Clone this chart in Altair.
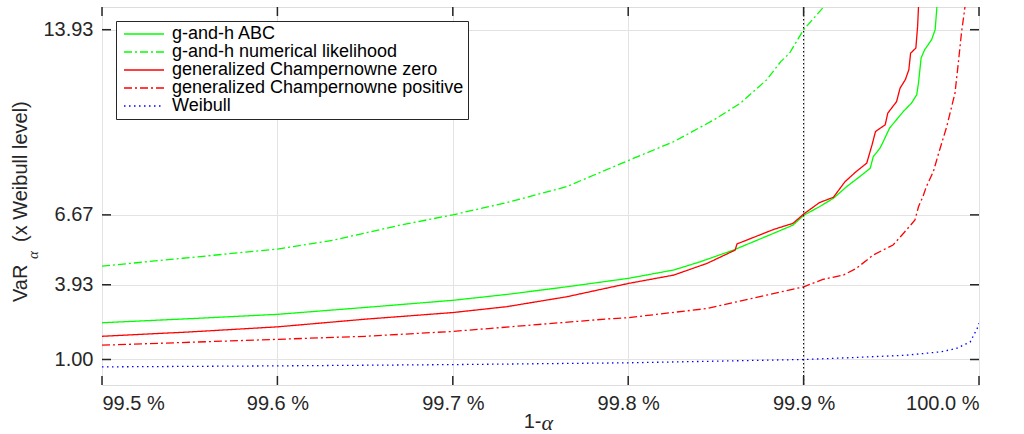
import altair as alt
import pandas as pd

# Series: confidence level 1-alpha (in %) and VaR relative to the Weibull level
series_names = [
    "g-and-h ABC",
    "g-and-h numerical likelihood",
    "generalized Champernowne zero",
    "generalized Champernowne positive",
    "Weibull",
]
series_colors = ["#00ff00", "#00ff00", "#ff0000", "#ff0000", "#0000ff"]
series_dashes = [[1, 0], [8, 3, 2, 3], [1, 0], [8, 3, 2, 3], [1.5, 3.5]]

gh_abc_x = [99.50, 99.55, 99.60, 99.65, 99.70, 99.7307, 99.765, 99.80, 99.826, 99.841,
            99.860, 99.883, 99.894, 99.90, 99.909, 99.917, 99.9246, 99.932, 99.938, 99.9397,
            99.9435, 99.9454, 99.949, 99.9568, 99.9615, 99.9645, 99.9655, 99.967, 99.969,
            99.973, 99.975, 99.976, 99.9765]
gh_abc_y = [2.44, 2.60, 2.77, 3.04, 3.32, 3.55, 3.85, 4.18, 4.51, 4.83,
            5.29, 5.95, 6.27, 6.65, 6.99, 7.32, 7.78, 8.17, 8.50, 8.95,
            9.28, 9.54, 10.07, 10.72, 11.05, 11.38, 11.84, 12.82, 13.14,
            13.54, 13.93, 14.82, 15.50]

gh_num_x = [99.50, 99.546, 99.60, 99.632, 99.670, 99.70, 99.7307, 99.765, 99.80, 99.826,
            99.849, 99.864, 99.879, 99.887, 99.892, 99.90, 99.9114, 99.913]
gh_num_y = [4.66, 4.97, 5.33, 5.68, 6.27, 6.67, 7.15, 7.78, 8.80, 9.54,
            10.40, 11.05, 11.97, 12.68, 13.01, 13.93, 14.82, 15.30]

gc_zero_x = [99.50, 99.55, 99.60, 99.65, 99.70, 99.7307, 99.765, 99.80, 99.826, 99.845,
             99.861, 99.862, 99.883, 99.894, 99.90, 99.909, 99.917, 99.9236, 99.930, 99.936,
             99.939, 99.941, 99.9465, 99.948, 99.953, 99.955, 99.958, 99.960, 99.961, 99.964,
             99.965, 99.9655, 99.966]
gc_zero_y = [1.91, 2.08, 2.28, 2.58, 2.84, 3.07, 3.46, 3.98, 4.31, 4.77,
             5.29, 5.53, 6.10, 6.34, 6.70, 7.15, 7.36, 7.97, 8.37, 8.70,
             9.41, 9.94, 10.20, 10.66, 11.11, 11.64, 11.97, 12.36, 13.01, 13.21,
             14.06, 14.82, 15.50]

gc_pos_x = [99.50, 99.60, 99.65, 99.70, 99.788, 99.80, 99.845, 99.90, 99.911, 99.9227,
            99.930, 99.9398, 99.951, 99.957, 99.9635, 99.9655, 99.968, 99.970, 99.974,
            99.977, 99.9816, 99.9863, 99.988, 99.990, 99.992, 99.9925]
gc_pos_y = [1.56, 1.79, 1.91, 2.10, 2.59, 2.64, 3.00, 3.85, 4.14, 4.31,
            4.57, 5.10, 5.49, 5.95, 6.47, 6.99, 7.38, 7.78, 8.37,
            9.09, 10.13, 11.44, 12.49, 13.80, 14.82, 15.30]

weibull_x = [99.50, 99.60, 99.70, 99.80, 99.90, 99.930, 99.9588, 99.978, 99.987, 99.995,
             99.999, 100.0]
weibull_y = [0.71, 0.75, 0.80, 0.87, 1.00, 1.08, 1.17, 1.30, 1.43, 1.69,
             2.22, 2.42]

x_ticks = [99.5, 99.6, 99.7, 99.8, 99.9, 100.0]
y_ticks = [1.00, 3.93, 6.67, 13.93]
marker_level = [99.9]

x_domain = [99.5, 100.0]
y_domain = [0.0, 14.82]

W, H = 877, 378
INK = "#262626"
FONT = "Liberation Sans"

rows = []
for name, xs, ys in zip(series_names,
                        [gh_abc_x, gh_num_x, gc_zero_x, gc_pos_x, weibull_x],
                        [gh_abc_y, gh_num_y, gc_zero_y, gc_pos_y, weibull_y]):
    for xv, yv in zip(xs, ys):
        rows.append({"level": xv, "var": yv, "series": name})
curves = pd.DataFrame(rows)

x_scale = alt.Scale(domain=x_domain, nice=False, zero=False)
y_scale = alt.Scale(domain=y_domain, nice=False, zero=False)

legend = alt.Legend(
    title=None, orient="top-left", offset=14, padding=4,
    strokeColor=INK, fillColor="white", cornerRadius=0,
    labelFont=FONT, labelFontSize=18, labelColor="#000000", labelLimit=0,
    symbolType="M-1,0H7", symbolSize=100, symbolStrokeWidth=1.3,
    labelOffset=34, rowPadding=0,
)

lines = alt.Chart(curves).mark_line(clip=True, strokeWidth=1.3).encode(
    x=alt.X("level:Q", scale=x_scale,
            axis=alt.Axis(values=x_ticks, labelExpr="format(datum.value, '.1f') + ' %'",
                          grid=True, gridColor="#e3e3e3", domain=False, ticks=False,
                          labelFont=FONT, labelFontSize=20, labelColor=INK, labelPadding=8,
                          title=None)),
    y=alt.Y("var:Q", scale=y_scale,
            axis=alt.Axis(values=y_ticks, format=".2f", grid=True, gridColor="#e3e3e3",
                          domain=False, ticks=False, labelFont=FONT, labelFontSize=20,
                          labelColor=INK, labelPadding=9, title=None)),
    color=alt.Color("series:N", scale=alt.Scale(domain=series_names, range=series_colors),
                    legend=legend),
    strokeDash=alt.StrokeDash("series:N",
                              scale=alt.Scale(domain=series_names, range=series_dashes),
                              legend=legend),
)

marker = alt.Chart(pd.DataFrame({"level": marker_level})).mark_rule(
    color="#000000", strokeWidth=1.1, strokeDash=[1.5, 2.5]
).encode(x=alt.X("level:Q", scale=x_scale))

xt = pd.DataFrame({"level": x_ticks})
yt = pd.DataFrame({"var": y_ticks})
tick_style = dict(color=INK, strokeWidth=1.5)
ticks_bottom = alt.Chart(xt).mark_rule(**tick_style).encode(
    x=alt.X("level:Q", scale=x_scale), y=alt.value(H - 9), y2=alt.value(H))
ticks_top = alt.Chart(xt).mark_rule(**tick_style).encode(
    x=alt.X("level:Q", scale=x_scale), y=alt.value(0), y2=alt.value(9))
ticks_left = alt.Chart(yt).mark_rule(**tick_style).encode(
    y=alt.Y("var:Q", scale=y_scale), x=alt.value(0), x2=alt.value(9))
ticks_right = alt.Chart(yt).mark_rule(**tick_style).encode(
    y=alt.Y("var:Q", scale=y_scale), x=alt.value(W - 9), x2=alt.value(W))

one = pd.DataFrame({"k": [0]})

# Rotated y-axis title with a subscript alpha
title_var = alt.Chart(one).mark_text(
    angle=270, align="left", baseline="middle", font=FONT, fontSize=20, color=INK
).encode(x=alt.value(-81), y=alt.value(295), text=alt.value("VaR"))
title_alpha = alt.Chart(one).mark_text(
    angle=270, align="center", baseline="middle", font="Liberation Serif",
    fontStyle="italic", fontSize=15, color=INK
).encode(x=alt.value(-69), y=alt.value(248), text=alt.value("α"))
title_rest = alt.Chart(one).mark_text(
    angle=270, align="left", baseline="middle", font=FONT, fontSize=20, color=INK
).encode(x=alt.value(-81), y=alt.value(235), text=alt.value("(x Weibull level)"))

# x-axis title "1-α"
xtitle_one = alt.Chart(one).mark_text(
    align="right", baseline="middle", font=FONT, fontSize=20, color=INK
).encode(x=alt.value(W / 2 + 1), y=alt.value(H + 37), text=alt.value("1-"))
xtitle_alpha = alt.Chart(one).mark_text(
    align="left", baseline="middle", font="Liberation Serif", fontStyle="italic",
    fontSize=22, color=INK
).encode(x=alt.value(W / 2 + 1), y=alt.value(H + 38), text=alt.value("α"))

chart = alt.layer(
    lines, marker, ticks_bottom, ticks_top, ticks_left, ticks_right,
    title_var, title_alpha, title_rest, xtitle_one, xtitle_alpha,
).properties(
    width=W, height=H,
    autosize=alt.AutoSizeParams(type="none"),
    padding={"left": 102, "top": 7, "right": 45, "bottom": 49},
).configure_view(
    stroke=INK, strokeWidth=1.5
).configure(background="white")

chart.save("out.html", embed_options={"renderer": "svg", "actions": False})
